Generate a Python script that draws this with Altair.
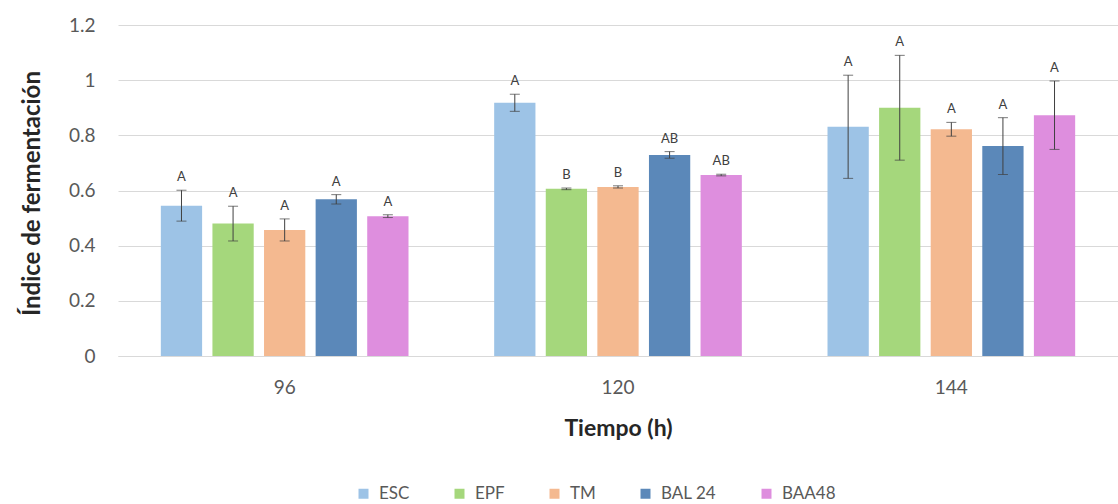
import altair as alt
import pandas as pd

# Fermentation index by time and treatment (mean ± SD, with grouping letters)
tiempos = ["96", "120", "144"]
tratamientos = ["ESC", "EPF", "TM", "BAL 24", "BAA48"]
colores = ["#9DC3E6", "#A5D77C", "#F4B990", "#5B88B9", "#DE8EDE"]

media_96 = [0.545, 0.480, 0.457, 0.568, 0.507]
media_120 = [0.918, 0.606, 0.613, 0.729, 0.656]
media_144 = [0.831, 0.900, 0.822, 0.761, 0.873]

de_96 = [0.056, 0.063, 0.040, 0.017, 0.005]
de_120 = [0.031, 0.003, 0.004, 0.012, 0.003]
de_144 = [0.187, 0.190, 0.025, 0.103, 0.124]

letras_96 = ["A", "A", "A", "A", "A"]
letras_120 = ["A", "B", "B", "AB", "AB"]
letras_144 = ["A", "A", "A", "A", "A"]

rows = []
for t, medias, des, letras in zip(
    tiempos,
    [media_96, media_120, media_144],
    [de_96, de_120, de_144],
    [letras_96, letras_120, letras_144],
):
    for trat, m, d, l in zip(tratamientos, medias, des, letras):
        rows.append({"Tiempo": t, "Tratamiento": trat, "Media": m,
                     "Low": m - d, "High": m + d, "Letra": l})
df = pd.DataFrame(rows)

FONT = "Lato"
GRAY = "#595959"

x = alt.X("Tiempo:N", sort=tiempos,
          scale=alt.Scale(paddingInner=0.257, paddingOuter=0.1285),
          axis=alt.Axis(title="Tiempo (h)", labelAngle=0, labelPadding=22,
                        labelFontSize=19, labelColor=GRAY, labelFont=FONT,
                        titleFont=FONT, titleFontSize=23, titleFontWeight="bold",
                        titleColor="#262626", titleY=72, titleBaseline="middle",
                        domainColor="#D9D9D9", ticks=False))
xo = alt.XOffset("Tratamiento:N", sort=tratamientos,
                 scale=alt.Scale(paddingInner=0.2, paddingOuter=0))
y = alt.Y("Media:Q",
          scale=alt.Scale(domain=[0, 1.2], nice=False),
          axis=alt.Axis(title="Índice de fermentación", values=[0, 0.2, 0.4, 0.6, 0.8, 1, 1.2],
                        format="~g",
                        labelFontSize=19, labelColor=GRAY, labelFont=FONT,
                        labelPadding=23, titleFont=FONT, titleFontSize=24,
                        titleFontWeight="bold", titleColor="#262626",
                        titleX=-86, titleY=168, titleBaseline="middle",
                        domain=False, ticks=False, gridColor="#D9D9D9"))

color = alt.Color("Tratamiento:N", sort=tratamientos,
                  scale=alt.Scale(domain=tratamientos, range=colores),
                  legend=alt.Legend(title=None, orient="none", direction="horizontal",
                                    legendX=237, legendY=460, symbolType="square",
                                    symbolSize=100, symbolStrokeWidth=0,
                                    labelFontSize=17, labelColor=GRAY,
                                    labelFont=FONT, columnPadding=41, labelOffset=7))

bars = alt.Chart(df).mark_bar().encode(x=x, xOffset=xo, y=y, color=color)

enc_x = alt.X("Tiempo:N", sort=tiempos)
enc_xo = alt.XOffset("Tratamiento:N", sort=tratamientos)

err = alt.Chart(df).mark_rule(color="#404040", strokeWidth=1).encode(
    x=enc_x, xOffset=enc_xo, y="Low:Q", y2="High:Q")

cap_hi = alt.Chart(df).mark_tick(color="#404040", thickness=1, size=10).encode(
    x=enc_x, xOffset=enc_xo, y="High:Q")
cap_lo = alt.Chart(df).mark_tick(color="#404040", thickness=1, size=10).encode(
    x=enc_x, xOffset=enc_xo, y="Low:Q")

letters = alt.Chart(df).mark_text(font=FONT, fontSize=13, color="#404040",
                                  baseline="bottom", dy=-6).encode(
    x=enc_x, xOffset=enc_xo, y="High:Q", text="Letra:N")

chart = alt.layer(bars, err, cap_hi, cap_lo, letters).properties(
    width=1000, height=331,
    autosize=alt.AutoSizeParams(type="none"),
    padding={"left": 118, "top": 25, "right": 0, "bottom": 148},
).configure_view(stroke=None)

chart.save("out.html", embed_options={"renderer": "svg", "actions": False})
